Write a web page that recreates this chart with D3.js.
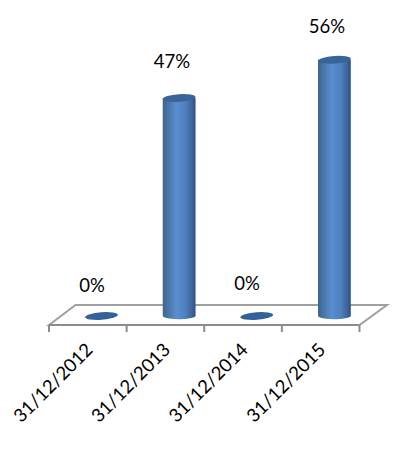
<!DOCTYPE html>
<html><head><meta charset="utf-8">
<script src="https://cdn.jsdelivr.net/npm/d3@7/dist/d3.min.js"></script>
<style>html,body{margin:0;padding:0;background:#fff}svg{display:block}text{font-family:Lato,"Open Sans",sans-serif;fill:#000}</style>
</head><body><svg id="c" width="415" height="450"></svg>
<script>
const categories = ["31/12/2012","31/12/2013","31/12/2014","31/12/2015"];
const values = [0, 47.4, 0, 55.7];
const labels = ["0%","47%","0%","56%"];

const svg = d3.select("#c");
const x = d3.scaleBand().domain(categories).range([49,359.5]).paddingInner(0).paddingOuter(0);
const y = d3.scaleLinear().domain([0,60]).range([316,40]);
const depthX = 13.7, rx = 16.4, ry = 3.8, tilt = -4;

const defs = svg.append("defs");
const g = defs.append("linearGradient").attr("id","cyl");
[[0,"#3a6594"],[0.12,"#44719f"],[0.42,"#5a8ecf"],[0.68,"#4f80bf"],[0.88,"#3f6699"],[1,"#2f4f78"]]
 .forEach(([o,c])=>g.append("stop").attr("offset",o).attr("stop-color",c));

// floor
const gray="#a0a0a0";
svg.append("path").attr("fill","#fff").attr("stroke",gray).attr("stroke-width",2)
  .attr("d",d3.line()([[49,325],[75.5,305],[387,305],[359.5,325]])+"Z");
svg.append("path").attr("fill","none").attr("stroke","#8c8c8c").attr("stroke-width",2).attr("d","M49,325H359.5");
const tickVals = d3.range(categories.length+1).map(i=>49+i*x.step());
svg.selectAll("line.t").data(tickVals).join("line").attr("class","t")
  .attr("x1",d=>d).attr("x2",d=>d).attr("y1",325).attr("y2",332)
  .attr("stroke","#8c8c8c").attr("stroke-width",2);

// bars
const cx = d=>x(d.c)+x.bandwidth()/2+depthX;
const data = categories.map((c,i)=>({c,v:values[i],l:labels[i]}));
const bars = svg.selectAll("g.bar").data(data).join("g").attr("class","bar");
bars.filter(d=>d.v>0).append("path").attr("fill","url(#cyl)")
  .attr("d",d=>{
    const X=cx(d),b=y(0),t=y(d.v);
    return `M${X-rx},${t}L${X-rx},${b}A${rx},${ry} 0 0 0 ${X+rx},${b-1}L${X+rx},${t}Z`;
  });
bars.append("ellipse")
  .attr("rx",rx).attr("ry",ry)
  .attr("fill",d=>d.v>0?"#38649a":"#33629a")
  .attr("transform",d=>`translate(${cx(d)},${y(d.v)}) rotate(${tilt})`);

// value labels
const labelY = [292,68,290,33];
svg.selectAll("text.v").data(data).join("text").attr("class","v")
  .attr("x",(d,i)=>[92,172,247,327][i]).attr("y",(d,i)=>labelY[i])
  .attr("text-anchor","middle").attr("font-size",18.5).text(d=>d.l);

// category labels
svg.selectAll("text.c").data(data).join("text").attr("class","c")
  .attr("text-anchor","end").attr("font-size",18.5)
  .attr("transform",d=>`translate(${x(d.c)+x.bandwidth()/2+6},351) rotate(-45)`)
  .text(d=>d.c);
</script></body></html>
